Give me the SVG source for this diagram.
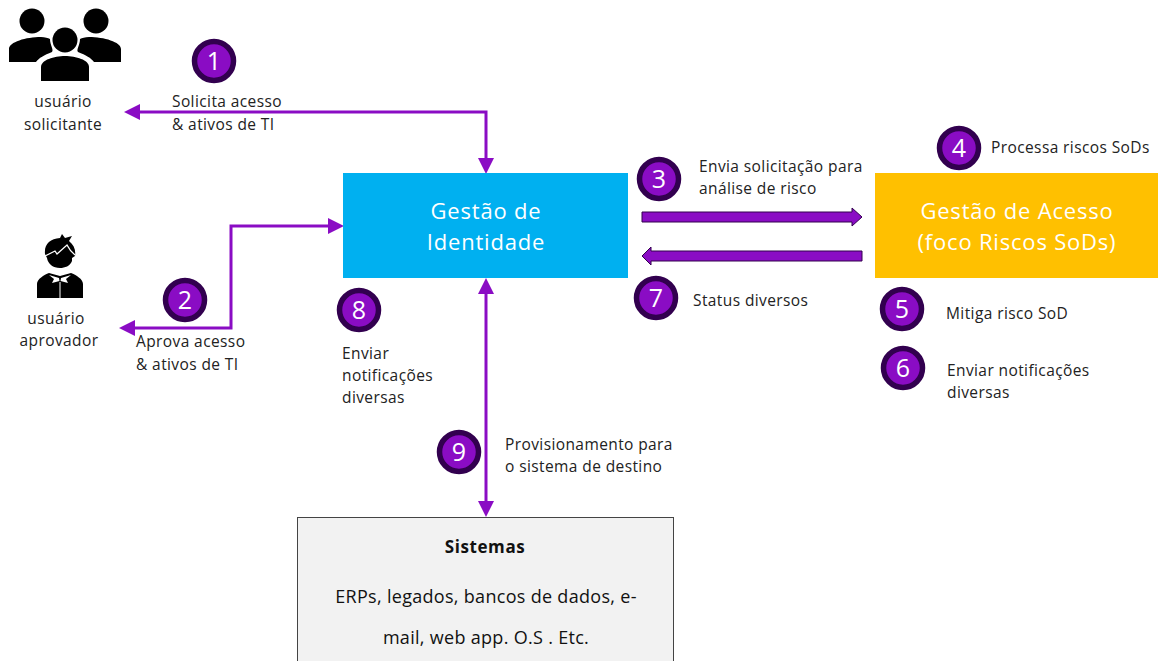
<svg xmlns="http://www.w3.org/2000/svg" width="1158" height="661" viewBox="0 0 1158 661">
<style>
text{font-family:"Open Sans","Noto Sans","Liberation Sans",sans-serif;fill:#222}
.t{font-size:15.500px;letter-spacing:.4px}
.m{text-anchor:middle}
.big{font-size:22px;letter-spacing:.8px;fill:#fff;text-anchor:middle}
.num{font-family:"Open Sans","Noto Sans",sans-serif;font-size:25px;fill:#fff;text-anchor:middle}
.b{fill:#8a0cc4;stroke:#32004f;stroke-width:5.5}
.c{fill:none;stroke:#8a0cc4;stroke-width:3}
.h{fill:#8a0cc4}
.f{fill:#8a0cc4;stroke:#32004f;stroke-width:1}
.s{font-size:18px;letter-spacing:.3px;fill:#111}
.sb{font-size:17px;letter-spacing:.6px;font-weight:700;fill:#111}
</style>
<g id="connectors">
<path class="c" d="M135 112H486V160"/>
<polygon class="h" points="124,112 140,104 140,120"/>
<polygon class="h" points="486,174 478,158 494,158"/>
<path class="c" d="M132 328H231V226H330"/>
<polygon class="h" points="119,328 135,320 135,336"/>
<polygon class="h" points="344,226 328,218 328,234"/>
<path class="c" d="M486 292V505"/>
<polygon class="h" points="486,278 478,294 494,294"/>
<polygon class="h" points="486,517 478,501 494,501"/>
<polygon class="f" points="642,212 852,212 852,208 862,217 852,226 852,222 642,222"/>
<polygon class="f" points="862,251 651,251 651,247 642,256 651,265 651,261 862,261"/>
</g>
<g id="usuario-solicitante">
<circle cx="32" cy="21" r="12.500" fill="#000"/><circle cx="96" cy="21" r="12.500" fill="#000"/>
<path d="M9 62V49C9 42 26 37 41 37C45 37 48 38 50 39C50 45 54 50 52 52C44 55 39 58 36 62Z" fill="#000"/>
<path d="M121 62V49C121 42 104 37 89 37C85 37 82 38 80 39C80 45 76 50 78 52C86 55 91 58 94 62Z" fill="#000"/>
<circle cx="65" cy="40" r="12.500" fill="#000"/>
<path d="M41 81V67C41 60 54 56 65 56C76 56 89 60 89 67V81Z" fill="#000"/>
<text class="t m" x="63" y="107">usuário</text><text class="t m" x="63" y="130">solicitante</text>
</g>
<g id="usuario-aprovador">
<path d="M45 254C44 244 50 239 60 238L62 234L65 238L72 236L69 241C74 245 76 250 75 256L72 258V261C70 266 65 268 60 268C53 268 48 264 47 258Z" fill="#000"/>
<path d="M45 256L55 251L57 254L67 245C69 249 71 252 75 255" fill="none" stroke="#fff" stroke-width="1.300"/>
<path d="M37 298V284C37 279 44 275 49 273L60 276L71 273C76 275 83 279 83 284V298Z" fill="#000"/>
<path d="M49 275L59 278L59.500 281L52 283L54 279ZM71 275L61 278L60.500 281L68 283L66 279Z" fill="#fff"/>
<path d="M60 282V298" stroke="#fff" stroke-width="1"/>
<text class="t m" x="56" y="324">usuário</text><text class="t m" x="59" y="346">aprovador</text>
</g>
<g id="gestao-identidade">
<rect x="343" y="173" width="285" height="105" fill="#00b0f0"/>
<text class="big" x="486" y="219">Gestão de</text><text class="big" x="486" y="250">Identidade</text>
</g>
<g id="gestao-acesso">
<rect x="875" y="173" width="283" height="105" fill="#ffc000"/>
<text class="big" x="1017" y="219">Gestão de Acesso</text><text class="big" x="1017" y="250">(foco Riscos SoDs)</text>
</g>
<g id="sistemas">
<rect x="297.500" y="517.500" width="376" height="150" fill="#f2f2f2" stroke="#444" stroke-width="1"/>
<text class="sb m" x="485" y="553">Sistemas</text>
<text class="s m" x="486" y="603">ERPs, legados, bancos de dados, e-</text>
<text class="s m" x="486" y="644">mail, web app. O.S . Etc.</text>
</g>
<g id="n1"><circle class="b" cx="214" cy="61" r="19.500"/><text class="num" x="214" y="70">1</text><text class="t" x="172" y="107">Solicita acesso</text><text class="t" x="172" y="130">&amp; ativos de TI</text></g>
<g id="n2"><circle class="b" cx="185" cy="300" r="19.500"/><text class="num" x="185" y="309">2</text><text class="t" x="136" y="347">Aprova acesso</text><text class="t" x="136" y="370">&amp; ativos de TI</text></g>
<g id="n3"><circle class="b" cx="659" cy="179" r="19.500"/><text class="num" x="659" y="188">3</text><text class="t" x="699" y="172">Envia solicitação para</text><text class="t" x="699" y="194">análise de risco</text></g>
<g id="n4"><circle class="b" cx="959" cy="148" r="19.500"/><text class="num" x="959" y="157">4</text><text class="t" x="991" y="153">Processa riscos SoDs</text></g>
<g id="n5"><circle class="b" cx="902" cy="309" r="19.500"/><text class="num" x="902" y="318">5</text><text class="t" x="946" y="319">Mitiga risco SoD</text></g>
<g id="n6"><circle class="b" cx="903" cy="368" r="19.500"/><text class="num" x="903" y="377">6</text><text class="t" x="947" y="376">Enviar notificações</text><text class="t" x="947" y="398">diversas</text></g>
<g id="n7"><circle class="b" cx="656" cy="298" r="19.500"/><text class="num" x="656" y="307">7</text><text class="t" x="693" y="306">Status diversos</text></g>
<g id="n8"><circle class="b" cx="359" cy="310" r="19.500"/><text class="num" x="359" y="319">8</text><text class="t" x="342" y="359">Enviar</text><text class="t" x="342" y="381">notificações</text><text class="t" x="342" y="403">diversas</text></g>
<g id="n9"><circle class="b" cx="459" cy="452" r="19.500"/><text class="num" x="459" y="461">9</text><text class="t" x="505" y="450">Provisionamento para</text><text class="t" x="505" y="472">o sistema de destino</text></g>
</svg>
